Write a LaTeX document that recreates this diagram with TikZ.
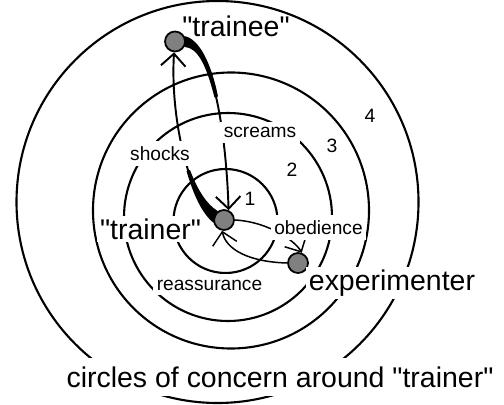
\documentclass[tikz,border=0pt]{standalone}
\usepackage{fontspec}
\setmainfont{Liberation Sans}[Ligatures=TeXOff]
\usetikzlibrary{arrows.meta}
\definecolor{DotGray}{HTML}{808080}
\tikzset{
  ring/.style={line width=1.2pt},
  dot/.style={circle, draw, line width=1pt, fill=DotGray, minimum size=0.4cm, inner sep=0pt},
  lbl/.style={fill=white, inner xsep=2pt, inner ysep=3pt, anchor=base, font=\fontsize{10.9}{13}\selectfont},
  biglbl/.style={fill=white, inner sep=1.5pt, anchor=base, font=\fontsize{16.2}{18}\selectfont},
  num/.style={anchor=base, font=\fontsize{11}{13}\selectfont},
  conn/.style={line width=1.1pt, -{Straight Barb[length=7pt,width=14pt]}},
  thinconn/.style={conn, line width=0.85pt},
}

\begin{document}
\begin{tikzpicture}
    \useasboundingbox (0,0) rectangle (10.08,8.08);
    % circles of concern
    \draw[ring] (4.51,3.66) circle (1.04);
    \draw[ring] (4.56,3.74) circle (2.08);
    \draw[ring] (4.62,3.87) circle (2.76);
    \draw[ring] (4.35,4.04) circle (4.02);
    % the three people
    \node[dot] (trainee) at (3.50,7.25) {};
    \node[dot] (trainer) at (4.48,3.68) {};
    \node[dot] (experimenter) at (5.96,2.82) {};
    % screams, thick end at the trainee
    \draw[conn] (trainee.east) .. controls (4.24,7.18) and (4.52,5.48) .. (trainer.65);
    \fill (trainee.-30) .. controls (3.96,7.13) and (4.13,6.76) .. (4.29,6.13)
      -- (4.36,6.15) .. controls (4.23,6.80) and (3.99,7.30) .. (trainee.30) -- cycle;
    % shocks, thick end at the trainer
    \draw[conn] (trainer.160) .. controls (3.80,4.08) and (3.40,5.68) .. (trainee.265);
    \fill (trainer.125) .. controls (4.14,3.99) and (3.96,4.26) .. (3.80,4.68)
      -- (3.73,4.66) .. controls (3.86,4.21) and (4.03,3.82) .. (trainer.195) -- cycle;
    % obedience and reassurance
    \draw[thinconn] (trainer.east) .. controls (5.40,3.64) and (5.92,3.24) .. (experimenter.70);
    \draw[thinconn] (experimenter.west) .. controls (5.00,2.84) and (4.52,3.08) .. (trainer.260);
    % labels
    \node[biglbl, fill=none] (traineelbl) at (4.72,7.34) {"trainee"};
    \node[biglbl] (trainerlbl) at (3.01,3.30) {"trainer"};
    \node[biglbl] (explbl) at (7.84,2.28) {experimenter};
    \node[biglbl, inner ysep=5pt] (caption) at (5.60,0.34) {circles of concern around "trainer"};
    \node[lbl] (screamslbl) at (5.20,5.32) {screams};
    \node[lbl] (shockslbl) at (3.20,4.87) {shocks};
    \node[lbl] (obedlbl) at (6.37,3.39) {obedience};
    \node[lbl] (reasslbl) at (4.19,2.28) {reassurance};
    \node[num] (ring1) at (5.00,3.98) {1};
    \node[num] (ring2) at (5.84,4.56) {2};
    \node[num] (ring3) at (6.64,5.02) {3};
    \node[num] (ring4) at (7.40,5.62) {4};
\end{tikzpicture}
\end{document}
